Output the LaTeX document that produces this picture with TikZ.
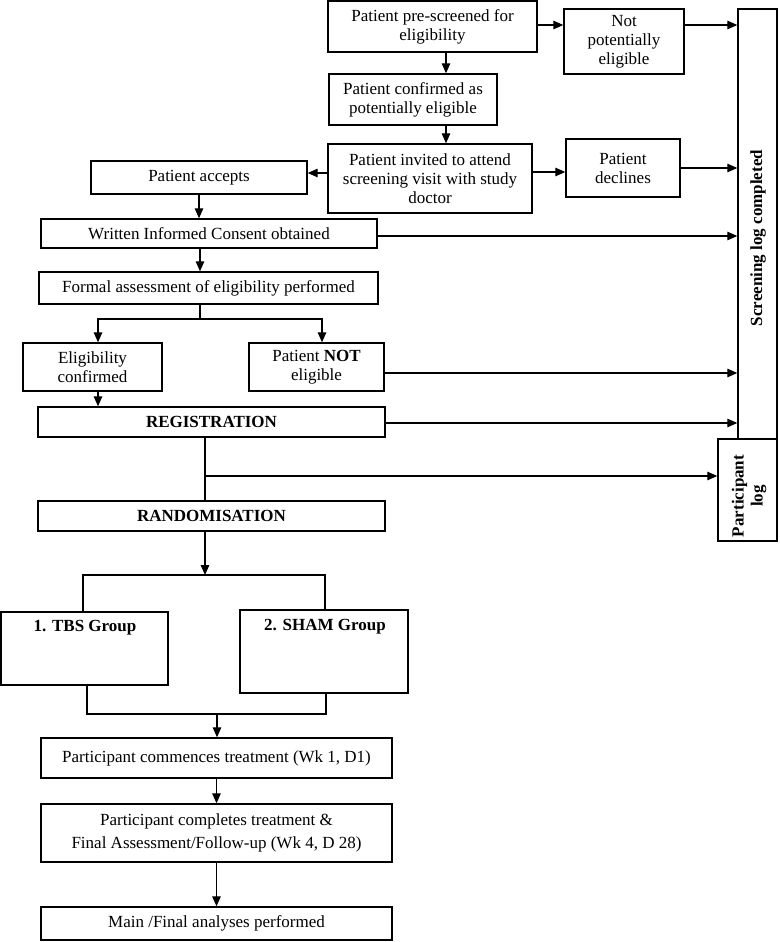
\documentclass[tikz,border=0pt]{standalone}
\usepackage{fontspec}
\setmainfont{Liberation Serif}
\usetikzlibrary{arrows.meta}
\tikzset{
  box/.style={draw, line width=1.4pt, inner sep=0pt, align=center, fill=white,
    font=\fontsize{17}{19}\selectfont},
  txt/.style={inner sep=0pt, align=center, font=\fontsize{17}{19}\selectfont},
  arr/.style={-{Triangle[length=10pt,width=8.5pt]}, line width=1.3pt},
  ln/.style={line width=1.3pt}
}
\begin{document}
\begin{tikzpicture}[x=1pt,y=-1pt]
\useasboundingbox (0,0) rectangle (779,942);
% boxes
\node[box, minimum width=209pt, minimum height=51pt] (pre) at (432.5,26.5) {Patient pre-screened for\\eligibility};
\node[box, minimum width=120pt, minimum height=65pt] (notel) at (624,41.5) {Not\\potentially\\eligible};
\node[box, minimum width=168pt, minimum height=51pt] (conf) at (413,99.5) {Patient confirmed as\\potentially eligible};
\node[box, minimum width=204pt, minimum height=69pt] (inv) at (430,178.5) {Patient invited to attend\\screening visit with study\\doctor};
\node[box, minimum width=114pt, minimum height=58pt] (decl) at (623,168) {Patient\\declines};
\node[box, minimum width=216pt, minimum height=33pt] (acc) at (199,177.5) {Patient accepts};
\node[box, minimum width=336pt, minimum height=29pt] (cons) at (209,233.5) {Written Informed Consent obtained};
\node[box, minimum width=339pt, minimum height=32pt] (form) at (208.5,288) {Formal assessment of eligibility performed};
\node[box, minimum width=139pt, minimum height=48pt] (elig) at (92.5,367) {Eligibility\\confirmed};
\node[box, minimum width=135pt, minimum height=48pt] (note) at (316.5,367) {Patient \textbf{NOT}\\eligible};
\node[box, minimum width=347pt, minimum height=30pt] (reg) at (211.5,422) {\textbf{REGISTRATION}};
\node[box, minimum width=347pt, minimum height=30pt] (rand) at (211.5,516) {\textbf{RANDOMISATION}};
\node[box, minimum width=167pt, minimum height=73pt] (tbs) at (84.5,648.5) {};
\node[txt] (tbst) at (85,628) {\textbf{1. TBS Group}};
\node[box, minimum width=168pt, minimum height=83pt] (sham) at (324,651.5) {};
\node[txt] (shamt) at (325,627) {\textbf{2. SHAM Group}};
\node[box, minimum width=351pt, minimum height=40pt] (comm) at (216.5,758) {Participant commences treatment (Wk 1, D1)};
\node[box, minimum width=351pt, minimum height=58pt, font=\fontsize{17}{23}\selectfont] (compl) at (216.5,833) {Participant completes treatment \&\\Final Assessment/Follow-up (Wk 4, D 28)};
\node[box, minimum width=351pt, minimum height=33pt] (final) at (216.5,923.5) {Main /Final analyses performed};
\node[box, minimum width=39pt, minimum height=430pt] (slog) at (757.5,224) {};
\node[txt, rotate=90] (slogt) at (758,238) {\textbf{Screening log completed}};
\node[box, minimum width=59pt, minimum height=102pt] (plog) at (747.5,490) {};
\node[txt, rotate=90] (plogt) at (749,496) {\textbf{Participant}\\\textbf{log}};
% connectors
\draw[arr] ([yshift=1.5pt]pre.east) -- ([yshift=1.5pt]pre.east -| notel.west);
\draw[arr] ([yshift=16.5pt]notel.east) -- ([yshift=16.5pt]notel.east -| slog.west);
\draw[arr] ([xshift=13.5pt]pre.south) -- ([xshift=13.5pt]pre.south |- conf.north);
\draw[arr] ([xshift=33pt]conf.south) -- ([xshift=33pt]conf.south |- inv.north);
\draw[arr] ([yshift=6.5pt]inv.east) -- ([yshift=6.5pt]inv.east -| decl.west);
\draw[arr] (decl.east) -- (decl.east -| slog.west);
\draw[arr] ([yshift=5.5pt]inv.west) -- ([yshift=5.5pt]inv.west -| acc.east);
\draw[arr] (acc.south) -- (acc.south |- cons.north);
\draw[arr] ([yshift=-2.5pt]cons.east) -- ([yshift=-2.5pt]cons.east -| slog.west);
\draw[arr] ([xshift=-9pt]cons.south) -- ([xshift=-9pt]cons.south |- form.north);
\coordinate (s1) at (200,319);
\draw[ln] (s1 |- form.south) -- (s1);
\draw[arr] (s1) -| ([xshift=5.5pt]elig.north);
\draw[arr] (s1) -| ([xshift=5.5pt]note.north);
\draw[arr] ([yshift=-6pt]note.east) -- ([yshift=-6pt]note.east -| slog.west);
\draw[arr] ([xshift=5.5pt]elig.south) -- ([xshift=5.5pt]elig.south |- reg.north);
\draw[arr] ([yshift=-1pt]reg.east) -- ([yshift=-1pt]reg.east -| slog.west);
\coordinate (b1) at (205,476);
\draw[ln] ([xshift=-6.5pt]reg.south) -- ([xshift=-6.5pt]reg.south |- rand.north);
\draw[arr] (b1) -- (b1 -| plog.west);
\coordinate (s2) at (205,575);
\draw[arr] ([xshift=-6.5pt]rand.south) -- (s2);
\draw[ln] ([xshift=-1.5pt]tbs.north) |- (s2) -| ([xshift=1pt]sham.north);
\coordinate (j1) at (217,714);
\draw[ln] ([xshift=2.5pt]tbs.south) |- (j1) -| ([xshift=2pt]sham.south);
\draw[arr] (j1) -- (j1 |- comm.north);
\draw[arr] (comm.south) -- (compl.north);
\draw[arr] (compl.south) -- (final.north);
\end{tikzpicture}
\end{document}
